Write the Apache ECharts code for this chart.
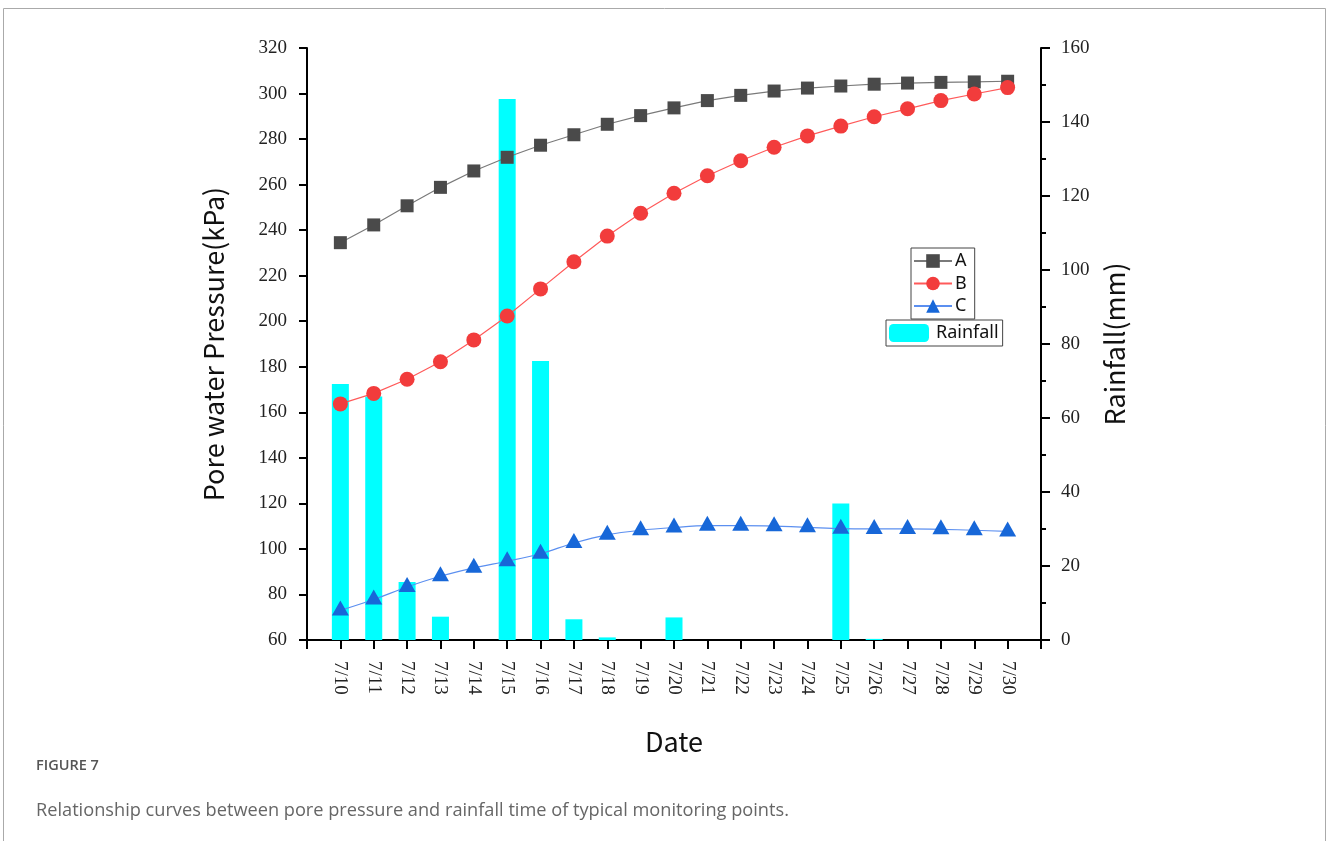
<!DOCTYPE html>
<html>
<head>
<meta charset="utf-8">
<script src="https://cdn.jsdelivr.net/npm/echarts@6/dist/echarts.min.js"></script>
<style>html,body{margin:0;padding:0;background:#fff;}#chart{width:1327px;height:841px;}</style>
</head>
<body>
<div id="chart"></div>
<script>
const categories = ['7/10','7/11','7/12','7/13','7/14','7/15','7/16','7/17','7/18','7/19','7/20','7/21','7/22','7/23','7/24','7/25','7/26','7/27','7/28','7/29','7/30'];
const seriesA = [234.5,242.3,250.7,258.8,266.0,272.0,277.3,281.9,286.5,290.3,293.7,296.9,299.2,301.1,302.4,303.3,304.1,304.6,304.9,305.1,305.4];
const seriesB = [163.7,168.3,174.5,182.2,191.8,202.3,214.2,226.1,237.4,247.4,256.2,263.9,270.5,276.4,281.4,285.7,289.8,293.3,296.9,299.8,302.6];
const seriesC = [73.0,77.8,83.3,88.0,91.7,94.6,97.9,102.6,106.2,108.2,109.4,110.2,110.2,110.0,109.5,108.9,108.8,108.8,108.6,108.2,107.7];
const rainfall = [69.2,65.8,15.7,6.3,0,146.2,75.4,5.6,0.7,0,6.1,0,0,0,0,36.9,0.3,0,0,0,0];
const leftTicks = {min:60, max:320, interval:20};
const rightTicks = {min:0, max:160, interval:20};

const dayOf = c => parseInt(c.split('/')[1], 10);
const days = categories.map(dayOf);
const firstDay = days[0], lastDay = days[days.length-1];
const pairs = arr => arr.map((v,i) => [days[i], v]);

const labelFont = {fontFamily:'Liberation Serif', fontSize:19, color:'#222'};
const nameFont = {fontFamily:'Noto Sans CJK SC', fontSize:27, color:'#111'};

const chart = echarts.init(document.getElementById('chart'), null, {renderer:'canvas'});
chart.setOption({
  animation:false,
  backgroundColor:'#fff',
  grid:{left:307, right:286, top:48, bottom:201, containLabel:false},
  legend:[
    {data:['A','B','C'], orient:'vertical', left:911, top:248, itemWidth:38, itemHeight:17, itemGap:4.5,
     padding:[4,8,4,2], borderColor:'#444', borderWidth:1,
     textStyle:{fontFamily:'Noto Sans', fontSize:18, lineHeight:18, color:'#111', padding:[0,0,0,-2]}},
    {data:['Rainfall'], left:886, top:320, itemWidth:40, itemHeight:18, itemGap:0, padding:[4,4,4,3],
     borderColor:'#444', borderWidth:1,
     textStyle:{fontFamily:'Noto Sans', fontSize:18, lineHeight:18, color:'#111', padding:[0,0,0,2]}}
  ],
  xAxis:{
    type:'value', min:firstDay-1, max:lastDay+1, interval:1,
    name:'Date', nameLocation:'middle', nameGap:88, nameTextStyle:nameFont,
    axisLine:{show:true, lineStyle:{color:'#000', width:2}},
    axisTick:{show:true, inside:false, length:9, lineStyle:{color:'#000', width:2}},
    splitLine:{show:false},
    axisLabel:Object.assign({rotate:-90, margin:21, showMinLabel:true, showMaxLabel:true,
      formatter: v => { const i = days.indexOf(v); return i >= 0 ? categories[i] : ''; }}, labelFont)
  },
  yAxis:[
    {type:'value', min:leftTicks.min, max:leftTicks.max, interval:leftTicks.interval, position:'left',
     name:'Pore water Pressure(kPa)', nameLocation:'middle', nameGap:80, nameTextStyle:nameFont,
     axisLine:{show:true, lineStyle:{color:'#000', width:2}},
     axisTick:{show:true, inside:false, length:8, lineStyle:{color:'#000', width:2}},
     splitLine:{show:false},
     axisLabel:Object.assign({margin:20}, labelFont)},
    {type:'value', min:rightTicks.min, max:rightTicks.max, interval:rightTicks.interval, position:'right',
     name:'Rainfall(mm)', nameLocation:'middle', nameGap:60, nameTextStyle:nameFont,
     axisLine:{show:true, lineStyle:{color:'#000', width:2}},
     axisTick:{show:true, inside:false, length:9, lineStyle:{color:'#000', width:2}},
     minorTick:{show:true, splitNumber:2, length:5, lineStyle:{color:'#000', width:2}},
     splitLine:{show:false}, minorSplitLine:{show:false},
     axisLabel:Object.assign({margin:20}, labelFont)}
  ],
  series:[
    {name:'Rainfall', type:'bar', yAxisIndex:1, data:pairs(rainfall), barWidth:17,
     itemStyle:{color:'#00ffff'}},
    {name:'A', type:'line', data:pairs(seriesA), symbol:'rect', symbolSize:13,
     itemStyle:{color:'#4a4a4a'}, lineStyle:{color:'#7a7a7a', width:1.2}},
    {name:'B', type:'line', data:pairs(seriesB), symbol:'circle', symbolSize:15,
     itemStyle:{color:'#f23c3c'}, lineStyle:{color:'#ff5a5a', width:1.2}},
    {name:'C', type:'line', data:pairs(seriesC), symbol:'triangle', symbolSize:[17,15], symbolOffset:[0,-2.5],
     smooth:0.3, itemStyle:{color:'#1767d8'}, lineStyle:{color:'#5b8ff0', width:1.2}}
  ],
  graphic:[
    {type:'rect', shape:{x:3.5, y:8.5, width:1322, height:900}, style:{fill:'none', stroke:'#aaa', lineWidth:1}, silent:true},
    {type:'text', left:36, top:758, style:{text:'FIGURE 7', fontFamily:'Open Sans', fontSize:14.5, fontWeight:600, fill:'#555'}},
    {type:'text', left:36, top:802, style:{text:'Relationship curves between pore pressure and rainfall time of typical monitoring points.', fontFamily:'Open Sans', fontSize:18.2, fill:'#666'}}
  ]
});
</script>
</body>
</html>
